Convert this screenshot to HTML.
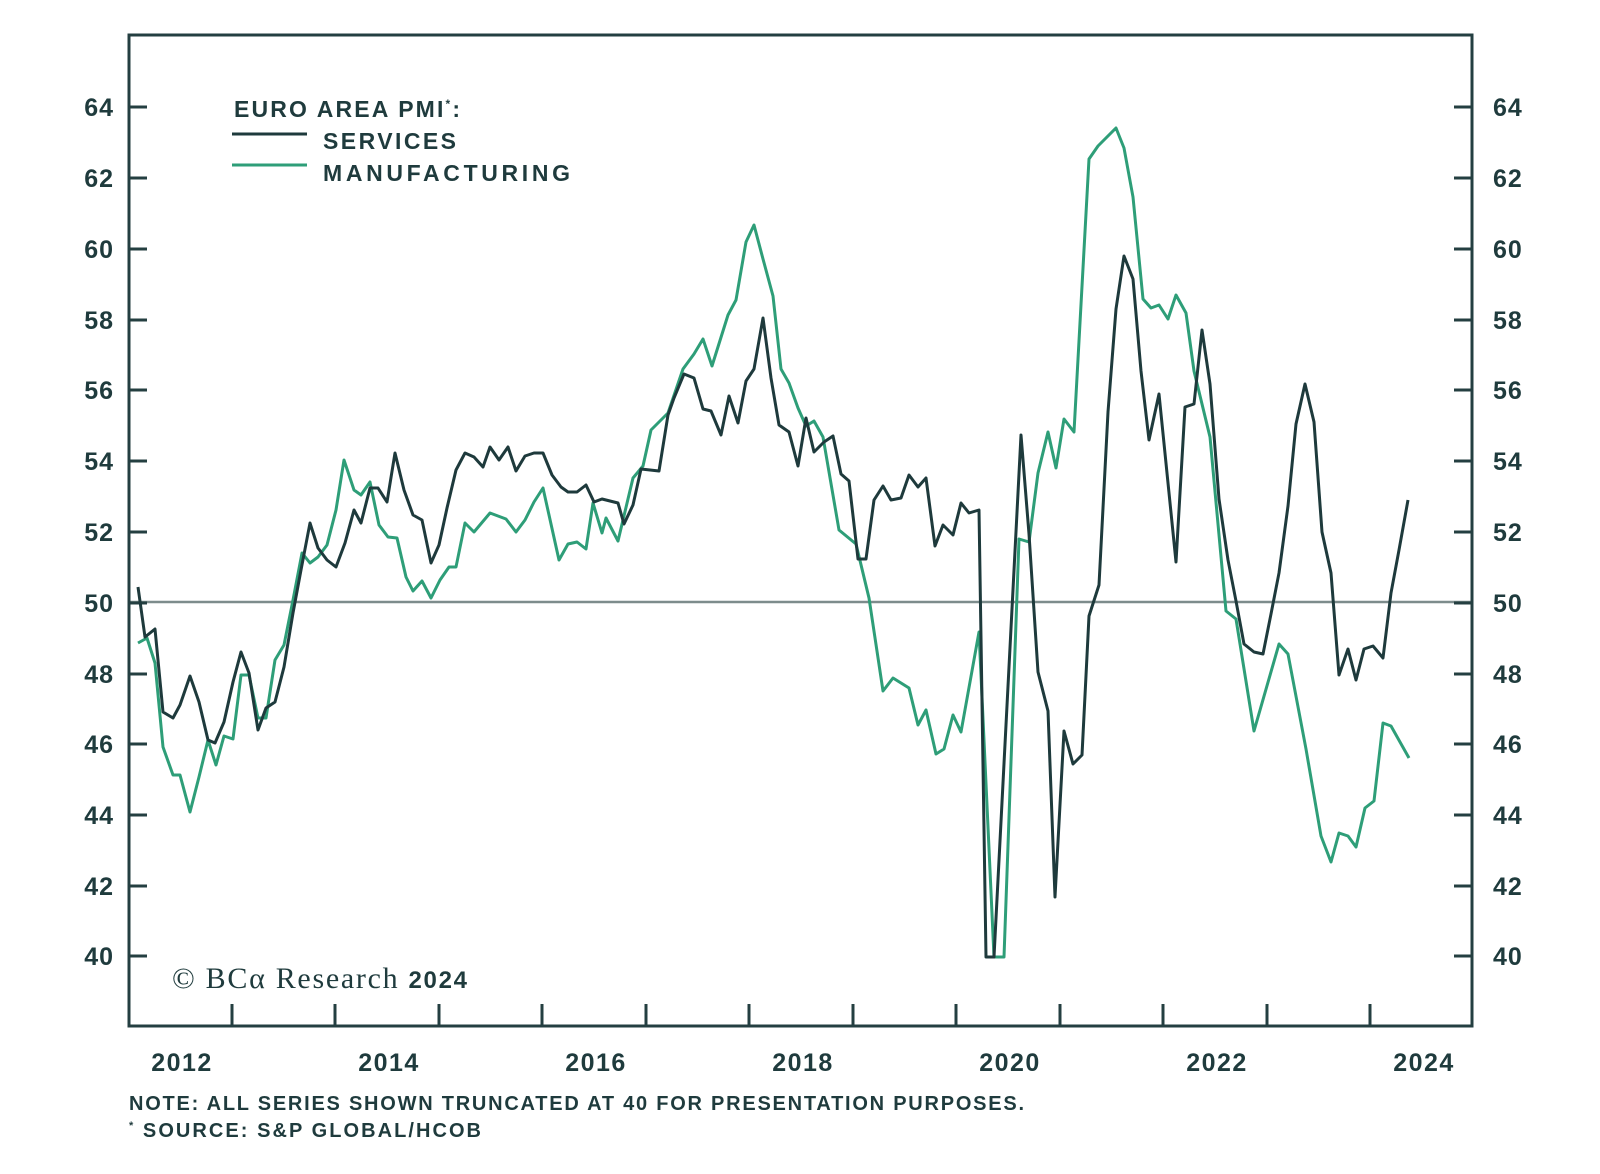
<!DOCTYPE html>
<html><head><meta charset="utf-8"><style>
body{margin:0;background:#fff;}
svg{display:block;}
.t{font-family:"Liberation Sans",sans-serif;font-weight:bold;fill:#1f3b3d;}
</style></head><body>
<svg width="1600" height="1174" viewBox="0 0 1600 1174" xmlns="http://www.w3.org/2000/svg">
<rect width="1600" height="1174" fill="#fff"/>
<line x1="129" y1="602" x2="1472" y2="602" stroke="#7d8c8c" stroke-width="2.5"/>
<g stroke="#243f41" stroke-width="3" fill="none">
<rect x="129" y="35" width="1343" height="991"/>
<path d="M129 107h18M129 178h18M129 249h18M129 320h18M129 390h18M129 461h18M129 532h18M129 603h18M129 674h18M129 744h18M129 815h18M129 886h18M129 956h18"/>
<path d="M1472 107h-18M1472 178h-18M1472 249h-18M1472 320h-18M1472 390h-18M1472 461h-18M1472 532h-18M1472 603h-18M1472 674h-18M1472 744h-18M1472 815h-18M1472 886h-18M1472 956h-18"/>
<path d="M232 1026v-22M335 1026v-22M439 1026v-22M542 1026v-22M646 1026v-22M749 1026v-22M853 1026v-22M956 1026v-22M1060 1026v-22M1163 1026v-22M1267 1026v-22M1370 1026v-22"/>
</g>
<g class="t" font-size="25" text-anchor="end" letter-spacing="1">
<text x="114" y="116">64</text><text x="114" y="187">62</text><text x="114" y="258">60</text><text x="114" y="329">58</text><text x="114" y="399">56</text><text x="114" y="470">54</text><text x="114" y="541">52</text><text x="114" y="612">50</text><text x="114" y="683">48</text><text x="114" y="753">46</text><text x="114" y="824">44</text><text x="114" y="895">42</text><text x="114" y="965">40</text>
</g>
<g class="t" font-size="25" text-anchor="start" letter-spacing="1">
<text x="1493" y="116">64</text><text x="1493" y="187">62</text><text x="1493" y="258">60</text><text x="1493" y="329">58</text><text x="1493" y="399">56</text><text x="1493" y="470">54</text><text x="1493" y="541">52</text><text x="1493" y="612">50</text><text x="1493" y="683">48</text><text x="1493" y="753">46</text><text x="1493" y="824">44</text><text x="1493" y="895">42</text><text x="1493" y="965">40</text>
</g>
<g class="t" font-size="25" text-anchor="middle" letter-spacing="1.5">
<text x="182" y="1071">2012</text><text x="389" y="1071">2014</text><text x="596" y="1071">2016</text><text x="803" y="1071">2018</text><text x="1010" y="1071">2020</text><text x="1217" y="1071">2022</text><text x="1424" y="1071">2024</text>
</g>
<polyline fill="none" stroke="#2e9e78" stroke-width="3" stroke-linejoin="round" points="138,643 147,638 155,663 163,747 173,775 180,775 190,812 199,777 208,740 216,765 224,736 233,739 241,675 249,675 258,718 266,718 275,660 284,645 293,600 302,553 310,563 318,557 327,545 336,510 344,460 354,490 361,495 370,482 379,525 388,537 397,538 406,577 413,591 422,581 431,598 440,580 449,567 456,567 465,523 474,532 490,513 506,519 516,532 525,520 534,502 543,488 559,560 568,544 577,542 586,549 593,503 602,533 606,518 618,541 633,478 643,466 651,430 668,413 683,369 694,354 703,339 712,366 728,315 736,300 746,242 754,225 763,259 773,296 781,369 789,383 798,408 806,426 814,421 823,437 839,530 856,544 869,598 883,691 893,678 909,688 918,725 926,710 936,754 944,749 953,715 961,732 979,632 994,957 1004,957 1019,539 1029,542 1038,473 1048,432 1056,468 1064,419 1074,432 1089,159 1098,146 1116,128 1124,148 1133,197 1143,299 1151,308 1159,305 1168,319 1176,295 1186,313 1194,371 1210,437 1226,611 1236,619 1254,731 1279,644 1288,654 1306,749 1321,836 1331,862 1339,833 1348,836 1356,847 1365,808 1374,801 1383,723 1391,726 1409,758"/>
<polyline fill="none" stroke="#1e3a3c" stroke-width="3" stroke-linejoin="round" points="138,587 145,637 155,629 163,712 173,718 180,705 190,676 199,702 208,740 215,743 224,722 233,682 241,652 249,673 258,730 266,708 275,702 284,667 293,613 301,570 310,523 318,548 327,560 336,567 345,543 354,510 361,523 370,488 378,488 387,502 395,453 404,490 413,515 422,520 431,563 439,545 447,508 456,470 465,453 474,457 483,467 490,447 499,460 508,447 516,471 525,456 534,453 543,453 552,475 561,487 568,492 577,492 586,485 594,502 602,499 618,503 624,524 633,505 641,469 659,471 668,415 674,398 684,374 694,378 703,409 711,411 721,435 729,396 738,423 746,381 754,369 763,318 771,378 779,425 789,432 798,466 806,418 814,452 824,442 833,436 841,474 849,481 858,559 866,559 874,500 883,486 891,500 901,498 909,475 918,487 926,478 935,546 943,525 953,535 961,503 969,513 979,510 986,957 994,957 1021,435 1029,534 1038,672 1048,711 1055,897 1064,731 1073,764 1082,755 1089,616 1099,585 1108,412 1116,309 1124,256 1133,279 1141,371 1149,440 1159,394 1168,483 1176,562 1185,407 1194,404 1202,330 1210,384 1219,499 1228,560 1236,601 1244,644 1254,652 1263,654 1271,614 1279,573 1288,506 1296,424 1305,384 1314,422 1322,532 1331,573 1339,675 1348,649 1356,680 1364,649 1373,646 1383,658 1391,593 1399,550 1408,500"/>
<text class="t" x="234" y="117" font-size="23" textLength="226" lengthAdjust="spacing">EURO AREA PMI<tspan font-size="12" dy="-9">*</tspan><tspan dy="9">:</tspan></text>
<line x1="232" y1="134" x2="307" y2="134" stroke="#1e3a3c" stroke-width="3"/>
<text class="t" x="323" y="149" font-size="23" textLength="133" lengthAdjust="spacing">SERVICES</text>
<line x1="232" y1="165" x2="307" y2="165" stroke="#2e9e78" stroke-width="3"/>
<text class="t" x="323" y="181" font-size="23" textLength="247" lengthAdjust="spacing">MANUFACTURING</text>
<text x="172" y="988" font-family="Liberation Serif,serif" font-size="30" fill="#1f3b3d" textLength="295" lengthAdjust="spacing">© BCα Research <tspan font-family="Liberation Sans,sans-serif" font-weight="bold" font-size="24">2024</tspan></text>
<text class="t" x="129" y="1110" font-size="20" textLength="895" lengthAdjust="spacing">NOTE: ALL SERIES SHOWN TRUNCATED AT 40 FOR PRESENTATION PURPOSES.</text>
<text class="t" x="129" y="1137" font-size="20" textLength="352" lengthAdjust="spacing"><tspan font-size="11" dy="-8">*</tspan><tspan dy="8"> SOURCE: S&amp;P GLOBAL/HCOB</tspan></text>
</svg>
</body></html>
